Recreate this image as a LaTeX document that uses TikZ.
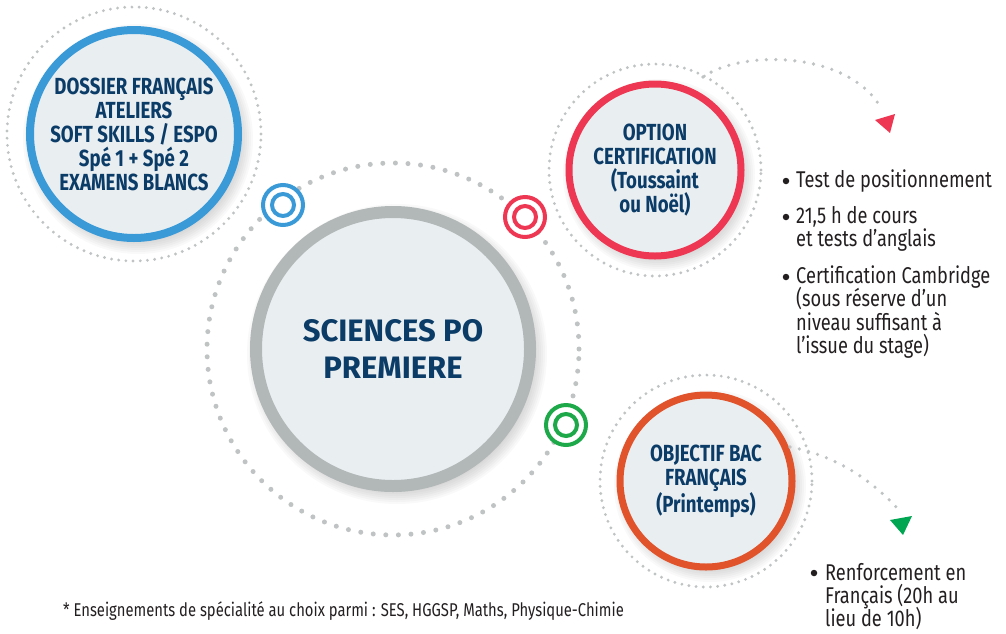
\documentclass[tikz,border=0pt]{standalone}
\usepackage{fontspec}
\setmainfont{Fira Sans}
\newfontfamily\condf[FakeStretch=0.80]{Fira Sans}
\newfontfamily\titlef{Fira Sans}
\definecolor{blueC}{HTML}{3A9AD8}
\definecolor{redC}{HTML}{EE3752}
\definecolor{orangeC}{HTML}{E0532B}
\definecolor{greenC}{HTML}{1DA849}
\definecolor{greenT}{HTML}{00A651}
\definecolor{grayRing}{HTML}{B2B7B7}
\definecolor{fillC}{HTML}{E9EEF1}
\definecolor{navy}{HTML}{0B3C68}
\definecolor{dotgray}{HTML}{BFC3C3}
\definecolor{txt}{HTML}{231F20}
\newcommand{\softshadow}[3]{%
  \foreach \k in {0,...,6}{\fill[black,opacity=0.025] (#1+4,#2+5) circle[radius=#3+7pt-\k*2pt];}}
\begin{document}
\begin{tikzpicture}[x=1pt,y=-1pt,
  dots/.style={draw=dotgray,line width=3.2pt,line cap=round,dash pattern=on 0pt off 7.2pt},
  bigdots/.style={draw=dotgray,line width=5pt,line cap=round,dash pattern=on 0pt off 12.6pt},
  arcdots/.style={draw=dotgray,line width=3.6pt,line cap=round,dash pattern=on 0pt off 9.5pt},
  ring/.style={circle,fill=fillC,inner sep=0pt,align=center,text=navy},
  smalltitle/.style={font={\condf\bfseries\fontsize{23.3}{24}\selectfont}},
  target/.style={circle,fill=white,line width=4pt,minimum size=40pt,inner sep=0pt},
  innertarget/.style={circle,fill=white,line width=4pt,minimum size=22pt,inner sep=0pt},
  bul/.style={font={\condf\fontsize{22.8}{23.5}\selectfont},text=txt,inner sep=0pt,anchor=base west},
  dotb/.style={circle,fill=txt,inner sep=0pt,minimum size=6.5pt}
]
\useasboundingbox (0,0) rectangle (1006,633);

% shadows
\softshadow{134}{134}{108pt}
\softshadow{393}{349}{143pt}
\softshadow{655}{170}{89pt}
\softshadow{706}{481}{89pt}

% dotted halos
\draw[dots] (134,134) circle[radius=127pt];
\draw[bigdots] (393,349) circle[radius=186pt];
\draw[dots] (655,170) circle[radius=106pt];
\draw[dots] (706,481) circle[radius=106pt];

% main circles
\node[ring,draw=blueC,line width=8pt,minimum size=208pt,smalltitle] (dossier) at (134,134)
  {DOSSIER FRANÇAIS\\ATELIERS\\SOFT SKILLS / ESPO\\Spé 1 + Spé 2\\EXAMENS BLANCS};
\node[ring,draw=grayRing,line width=12pt,minimum size=274pt,
  font={\titlef\bfseries\fontsize{31}{37}\selectfont}] (sciences) at (393,349)
  {SCIENCES PO\\PREMIERE};
\node[ring,draw=redC,line width=7pt,minimum size=172pt,smalltitle] (option) at (655,170)
  {OPTION\\CERTIFICATION\\(Toussaint\\ou Noël)};
\node[ring,draw=orangeC,line width=7pt,minimum size=172pt,smalltitle] (objectif) at (706,481)
  {OBJECTIF BAC\\FRANÇAIS\\(Printemps)};

% small targets
\node[target,draw=blueC] (tblue) at (283,205) {};
\node[innertarget,draw=blueC] (tblueIn) at (tblue.center) {};
\node[target,draw=redC] (tred) at (525,217) {};
\node[innertarget,draw=redC] (tredIn) at (tred.center) {};
\node[target,draw=greenC] (tgreen) at (566,425) {};
\node[innertarget,draw=greenC] (tgreenIn) at (tgreen.center) {};

% dotted arrows
\coordinate (a1s) at (703,77);
\coordinate (a1e) at (881,108);
\draw[arcdots] (a1s) .. controls (740,50) and (848,50) .. (a1e);
\fill[redC] (875,120) -- (895,114) -- (890,133) -- cycle;
\coordinate (a2s) at (790,447);
\coordinate (a2e) at (897,508);
\draw[arcdots] (a2s) .. controls (828,454) and (866,474) .. (a2e);
\fill[greenT] (890,520) -- (912,516) -- (903,535) -- cycle;

% bullets top right
\node[dotb] (b1) at (786,181) {};
\node[bul] (l1) at (796,187) {Test de positionnement};
\node[dotb] (b2) at (786,217) {};
\node[bul] (l2) at (796,223) {21,5 h de cours};
\node[bul] (l3) at (796,246.5) {et tests d’anglais};
\node[dotb] (b3) at (786,277) {};
\node[bul] (l4) at (796,283) {Certification Cambridge};
\node[bul] (l5) at (796,306.5) {(sous réserve d’un};
\node[bul] (l6) at (796,330) {niveau suffisant à};
\node[bul] (l7) at (796,353.5) {l’issue du stage)};

% bullet bottom right
\node[dotb] (b4) at (814,573) {};
\node[bul] (r1) at (825,580) {Renforcement en};
\node[bul] (r2) at (825,603) {Français (20h au};
\node[bul] (r3) at (825,626) {lieu de 10h)};

% footnote
\node[font={\condf\fontsize{18.5}{20}\selectfont},text=txt,inner sep=0pt,anchor=base west] (foot) at (63,616)
  {* Enseignements de spécialité au choix parmi : SES, HGGSP, Maths, Physique-Chimie};
\end{tikzpicture}
\end{document}
